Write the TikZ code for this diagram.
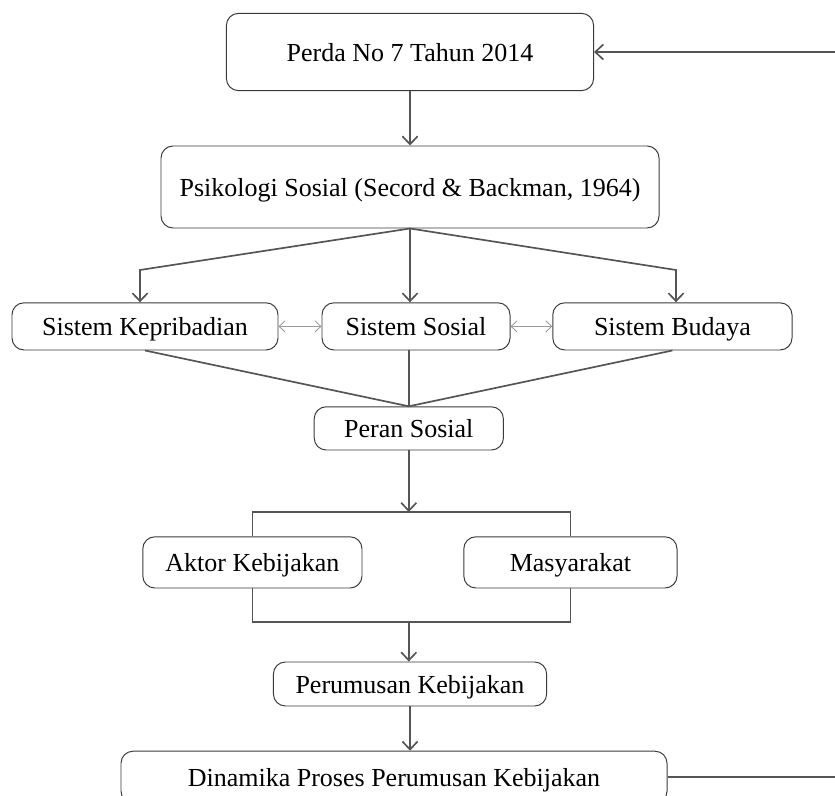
\documentclass[tikz,border=0pt]{standalone}
\usepackage{fontspec}
\setmainfont{Liberation Serif}
\usepackage{tikz}
\usetikzlibrary{arrows.meta}
\definecolor{linegray}{HTML}{555555}
\definecolor{boxline}{HTML}{3A3A3A}
\definecolor{twinegray}{HTML}{9A9A9A}

\begin{document}
\begin{tikzpicture}[
    box/.style={draw=boxline, line width=0.7pt, rounded corners=0.3cm, inner sep=0pt, text height=16pt, text depth=2.5pt, font=\fontsize{18.5}{22}\selectfont},
    arr/.style={draw=linegray, line width=1.2pt, -{Straight Barb[length=2mm,width=3.8mm]}},
    link/.style={draw=linegray, line width=1.2pt},
    twin/.style={draw=twinegray, line width=0.6pt, {Straight Barb[length=1.5mm,width=2.8mm]}-{Straight Barb[length=1.5mm,width=2.8mm]}}
]
    \useasboundingbox (0,0) rectangle (20.875,-19.9);

    \node[box, minimum width=9.18cm, minimum height=1.93cm] (perda) at (10.25,-1.3) {Perda No 7 Tahun 2014};
    \node[box, minimum width=12.45cm, minimum height=2.05cm] (psi) at (10.25,-4.675) {Psikologi Sosial (Secord \& Backman, 1964)};
    \node[box, minimum width=6.65cm, minimum height=1.18cm] (kep) at (3.625,-8.16) {Sistem Kepribadian};
    \node[box, minimum width=4.7cm, minimum height=1.18cm] (sos) at (10.4,-8.16) {Sistem Sosial};
    \node[box, minimum width=5.98cm, minimum height=1.18cm] (bud) at (16.81,-8.16) {Sistem Budaya};
    \node[box, minimum width=4.73cm, minimum height=1.08cm] (peran) at (10.22,-10.71) {Peran Sosial};
    \node[box, minimum width=5.48cm, minimum height=1.28cm] (aktor) at (6.31,-14.06) {Aktor Kebijakan};
    \node[box, minimum width=5.33cm, minimum height=1.28cm] (masy) at (14.26,-14.06) {Masyarakat};
    \node[box, minimum width=6.83cm, minimum height=1.1cm] (rumus) at (10.25,-17.1) {Perumusan Kebijakan};
    \node[box, minimum width=13.65cm, minimum height=1.3cm] (dinamika) at (9.85,-19.43) {Dinamika Proses Perumusan Kebijakan};

    \coordinate (fanL) at (3.5,-6.75);
    \coordinate (fanR) at (16.9,-6.75);
    \coordinate (brTop) at (10.22,-12.8);
    \coordinate (brBot) at (10.22,-15.55);
    \coordinate (back) at (21.5,-19.43);

    \draw[arr] (perda.south) -- (psi.north);
    \draw[arr] (psi.south) -- (fanL) -- (fanL |- kep.north);
    \draw[arr] (psi.south) -- (psi.south |- sos.north);
    \draw[arr] (psi.south) -- (fanR) -- (fanR |- bud.north);
    \draw[twin] (kep.east) -- (sos.west);
    \draw[twin] (sos.east) -- (bud.west);
    \draw[link] (kep.south) -- (peran.north);
    \draw[link] (peran.north |- sos.south) -- (peran.north);
    \draw[link] (bud.south) -- (peran.north);
    \draw[arr] (peran.south) -- (brTop);
    \draw[link] (aktor.north) |- (brTop) -| (masy.north);
    \draw[link] (aktor.south) |- (brBot) -| (masy.south);
    \draw[arr] (brBot) -- (brBot |- rumus.north);
    \draw[arr] (rumus.south) -- (dinamika.north -| rumus.south);
    \draw[arr] (dinamika.east) -- (back) |- (perda.east);
\end{tikzpicture}
\end{document}
